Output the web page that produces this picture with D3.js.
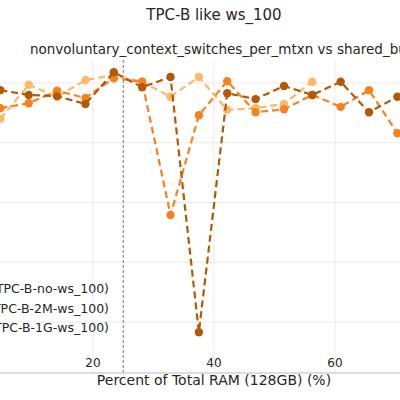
<!DOCTYPE html>
<html><head><meta charset="utf-8">
<script src="https://cdn.jsdelivr.net/npm/d3@7"></script>
<style>body{margin:0;background:#fff}text{font-family:"DejaVu Sans",sans-serif;fill:#262626}</style>
</head><body>
<script>
//Data: shared_buffers steps (6GB of 128GB), values in grid units
var steps = [1,2,3,4,5,6,7,8,9,10,11,12,13,14,15];
var seriesNames = ['TPC-B-no-ws_100)', 'TPC-B-2M-ws_100)', 'TPC-B-1G-ws_100)'];
var valsNo = [3.40,3.97,3.77,4.05,4.13,4.02,3.77,4.10,3.55,3.58,3.65,4.02];
var vals2M = [3.58,3.66,3.87,3.75,4.08,4.02,1.79,3.46,4.03,3.51,3.56,3.80,3.60,3.88,3.16];
var vals1G = [3.88,3.80,3.78,3.65,4.18,3.93,4.10,-0.17,3.83,3.73,3.95,3.80,4.02,3.51,3.77];
var colors = ['#fdb863','#f5821f','#b35806'];
var xTicks = [20,40,60];

var svg = d3.select('body').append('svg').attr('width',400).attr('height',400);

var x = d3.scaleLinear().domain([0,20]).range([-28,93]);
var y = d3.scaleLinear().domain([0,4]).range([322,83]);

//Grid
svg.selectAll('.vg').data(xTicks).enter().append('line')
   .attr('x1',function(d){return x(d);}).attr('x2',function(d){return x(d);})
   .attr('y1',60).attr('y2',373).attr('stroke','#ebebeb');
svg.selectAll('.hg').data([0,1,2,3,4]).enter().append('line')
   .attr('x1',0).attr('x2',400)
   .attr('y1',function(d){return y(d);}).attr('y2',function(d){return y(d);})
   .attr('stroke','#ebebeb');

//Vertical reference at 25%
svg.append('line').attr('x1',x(25)).attr('x2',x(25)).attr('y1',60).attr('y2',373)
   .attr('stroke','#777').attr('stroke-dasharray','3,2');

//Series
var lineGen = d3.line().x(function(d){return x(d[0]*6/128*100);}).y(function(d){return y(d[1]);});
[valsNo, vals2M, vals1G].forEach(function(vals,i){
    var pts = vals.map(function(v,j){return [steps[j], v];});
    svg.append('path').datum(pts).attr('d',lineGen).attr('fill','none')
       .attr('stroke',colors[i]).attr('stroke-width',2.2).attr('stroke-dasharray','7,4');
    svg.selectAll('.p'+i).data(pts).enter().append('circle')
       .attr('cx',function(d){return x(d[0]*6/128*100);}).attr('cy',function(d){return y(d[1]);})
       .attr('r',4.2).attr('fill',colors[i]);
});

//Axis
svg.append('line').attr('x1',0).attr('x2',400).attr('y1',373).attr('y2',373).attr('stroke','#bbb');
svg.selectAll('.xt').data(xTicks).enter().append('text')
   .attr('x',function(d){return x(d);}).attr('y',367).attr('text-anchor','middle')
   .attr('font-size',12).text(function(d){return d;});
svg.append('text').attr('x',214).attr('y',385).attr('text-anchor','middle')
   .attr('font-size',14).text('Percent of Total RAM (128GB) (%)');

//Titles
svg.append('text').attr('x',214).attr('y',20).attr('text-anchor','middle')
   .attr('font-size',15).text('TPC-B like ws_100');
svg.append('text').attr('x',30).attr('y',54).attr('font-size',13.5)
   .text('nonvoluntary_context_switches_per_mtxn vs shared_buffers');

//Legend
seriesNames.forEach(function(n,i){
    svg.append('text').attr('x',109).attr('y',293+i*19.5).attr('text-anchor','end')
       .attr('font-size',12.5).text(n);
});
</script>
</body></html>
